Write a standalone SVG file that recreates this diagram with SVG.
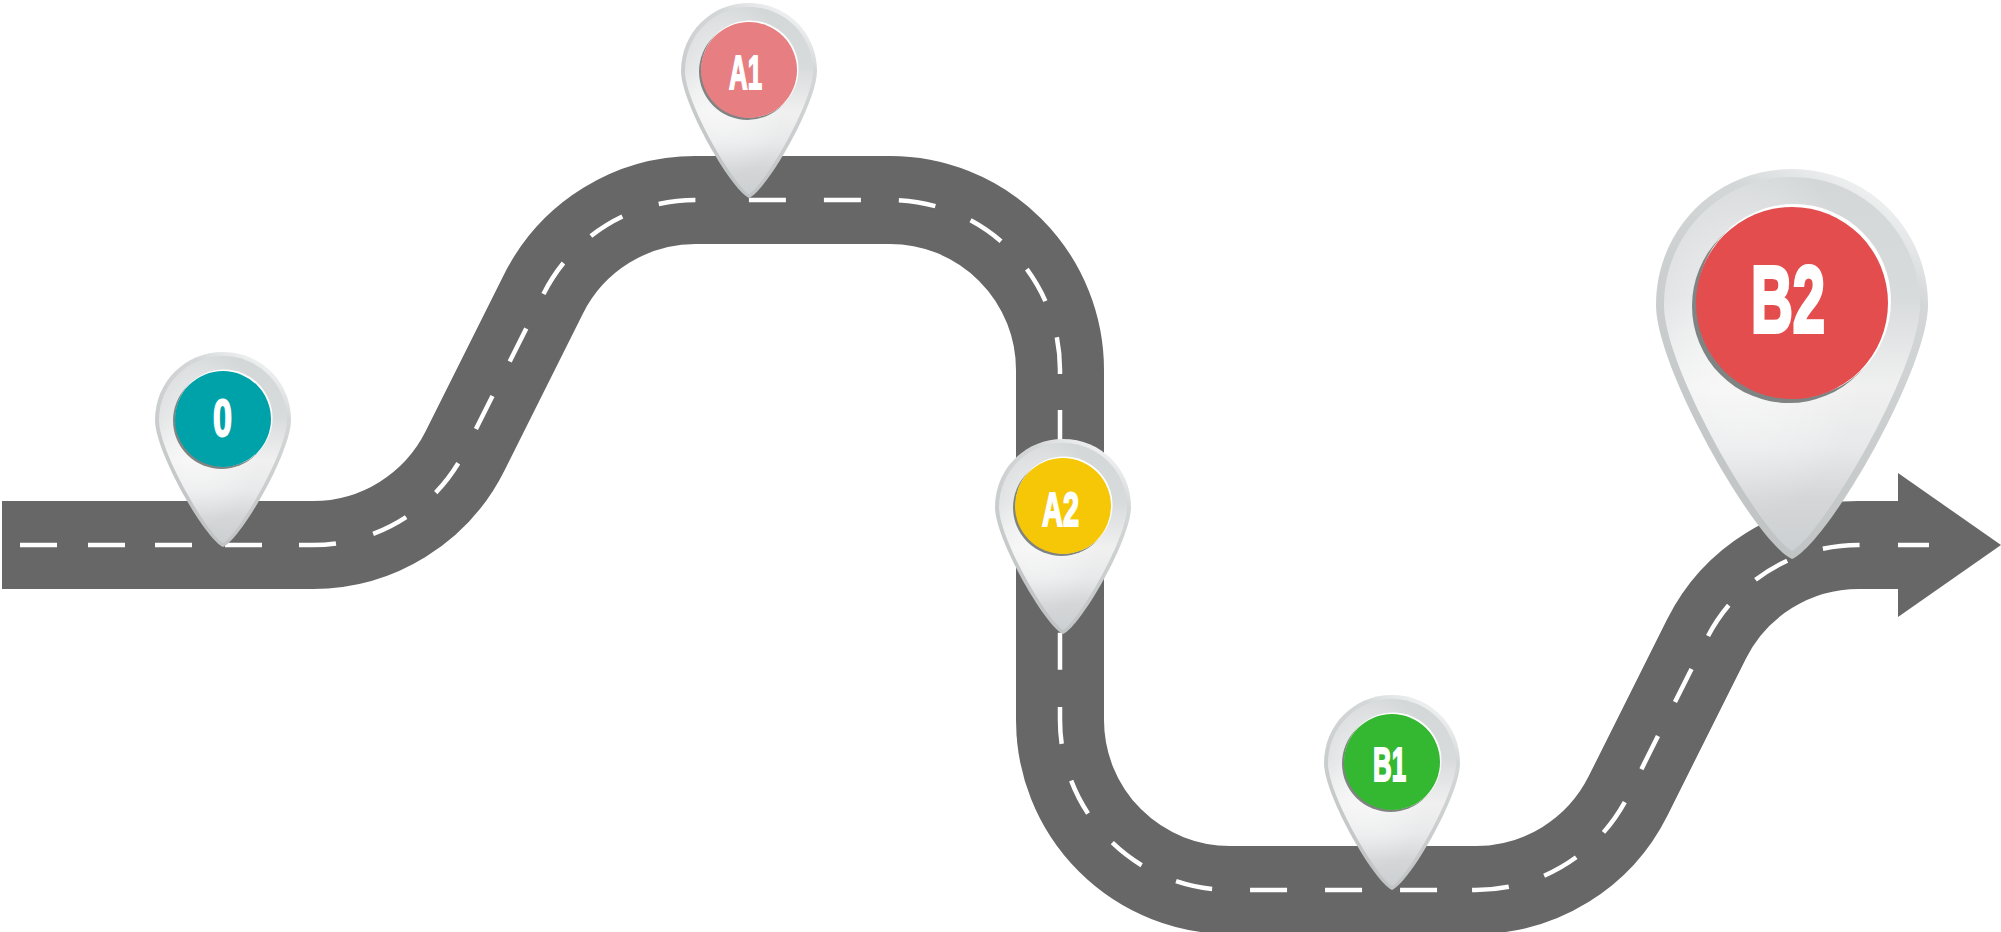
<svg xmlns="http://www.w3.org/2000/svg" xmlns:xlink="http://www.w3.org/1999/xlink" width="2001" height="932" viewBox="0 0 2001 932">
<style>
.road{fill:none;stroke:#676767;stroke-width:88}
.head{fill:#676767}
.lane{fill:none;stroke:#fff;stroke-width:4.5}
.lbl{font-family:"Liberation Sans Narrow","Liberation Sans",sans-serif;font-weight:700;fill:#fff;stroke:#fff;stroke-linejoin:miter;text-anchor:middle}
</style>
<defs>
<linearGradient id="rim" x1="0.75" y1="0" x2="0.3" y2="1"><stop offset="0" stop-color="#f3f5f5"/><stop offset="0.2" stop-color="#d4d7d8"/><stop offset="1" stop-color="#bfc2c3"/></linearGradient>
<linearGradient id="body" x1="0" y1="0" x2="0" y2="1"><stop offset="0" stop-color="#d4d7d8"/><stop offset="0.32" stop-color="#d8dbdc"/><stop offset="0.56" stop-color="#f0f0f0"/><stop offset="0.72" stop-color="#e8e9ea"/><stop offset="0.86" stop-color="#d4d6d8"/><stop offset="1" stop-color="#cdd0d2"/></linearGradient>
<radialGradient id="glow" cx="0.3" cy="0.42" r="0.5"><stop offset="0" stop-color="#fff" stop-opacity="0.7"/><stop offset="1" stop-color="#fff" stop-opacity="0"/></radialGradient>
<g id="pin">
<path fill="url(#rim)" d="M0 0C-18 -8 -68 -95 -68 -127C-68 -165 -38 -195 0 -195C38 -195 68 -165 68 -127C68 -95 18 -8 0 0Z"/>
<path fill="url(#body)" d="M0 -4C-15 -12 -64 -95 -64 -127C-64 -162 -36 -191 0 -191C36 -191 64 -162 64 -127C64 -95 15 -12 0 -4Z"/>
<path fill="url(#glow)" d="M0 -4C-15 -12 -64 -95 -64 -127C-64 -162 -36 -191 0 -191C36 -191 64 -162 64 -127C64 -95 15 -12 0 -4Z"/>
<circle cx="-1.500" cy="-126.500" r="48.500" fill="#7f8483"/>
<circle cx="1" cy="-129" r="48.500" fill="#fff"/>
</g>
</defs>
<rect width="2001" height="932" fill="#fff"/>
<g id="connectors">
<path class="road" d="M2 545H313A170 170 0 0 0 465 451L543.500 294A170 170 0 0 1 695.500 200H890A170 170 0 0 1 1060 370V720A170 170 0 0 0 1230 890H1476A170 170 0 0 0 1628 796L1706.500 639A170 170 0 0 1 1858.500 545H1900"/>
<polygon class="head" points="1898,473 2001,545 1898,617"/>
<path class="lane" stroke-dasharray="37 31 37 30 37 33 37 37 37 38.500 37 38.500 37 38.500 37 38.500 37 38.500 37 38.500 37 38.500 37 53.500 37 38 37 38 37 38 37 38 37 38 37 36 37 37.250 37 37.250 37 37.250 37 37.250 37 38 37 38 37 38 37 38 37 38 37 38 37 35 37 37 37 37 37 37 37 38 37 37 37 37 37 37.600 37 38.400 31 9999" d="M20 545H313A170 170 0 0 0 465 451L543.500 294A170 170 0 0 1 695.500 200H890A170 170 0 0 1 1060 370V720A170 170 0 0 0 1230 890H1476A170 170 0 0 0 1628 796L1706.500 639A170 170 0 0 1 1858.500 545H1940"/>
</g>
<g id="node-0">
<use href="#pin" transform="translate(223 547)"/>
<circle cx="223" cy="419" r="48" fill="#00a2a9"/>
<text class="lbl" x="222.500" y="436" font-size="52" stroke-width="2" textLength="19" lengthAdjust="spacingAndGlyphs">0</text>
</g>
<g id="node-a1">
<use href="#pin" transform="translate(749 198)"/>
<circle cx="749" cy="70" r="48" fill="#e77e82"/>
<text class="lbl" x="745.500" y="88.500" font-size="48" stroke-width="2" textLength="33" lengthAdjust="spacingAndGlyphs">A1</text>
</g>
<g id="node-a2">
<use href="#pin" transform="translate(1063 634)"/>
<circle cx="1063" cy="506" r="48" fill="#f5c707"/>
<text class="lbl" x="1060.500" y="525.500" font-size="48" stroke-width="2" textLength="37" lengthAdjust="spacingAndGlyphs">A2</text>
</g>
<g id="node-b1">
<use href="#pin" transform="translate(1392 890)"/>
<circle cx="1392" cy="762" r="48" fill="#34b831"/>
<text class="lbl" x="1389.500" y="780.500" font-size="48" stroke-width="2" textLength="33" lengthAdjust="spacingAndGlyphs">B1</text>
</g>
<g id="node-b2">
<use href="#pin" transform="translate(1792 559) scale(2)"/>
<circle cx="1792" cy="303" r="96" fill="#e34d4e"/>
<text class="lbl" x="1788" y="332" font-size="94" stroke-width="4" textLength="74" lengthAdjust="spacingAndGlyphs">B2</text>
</g>
</svg>
